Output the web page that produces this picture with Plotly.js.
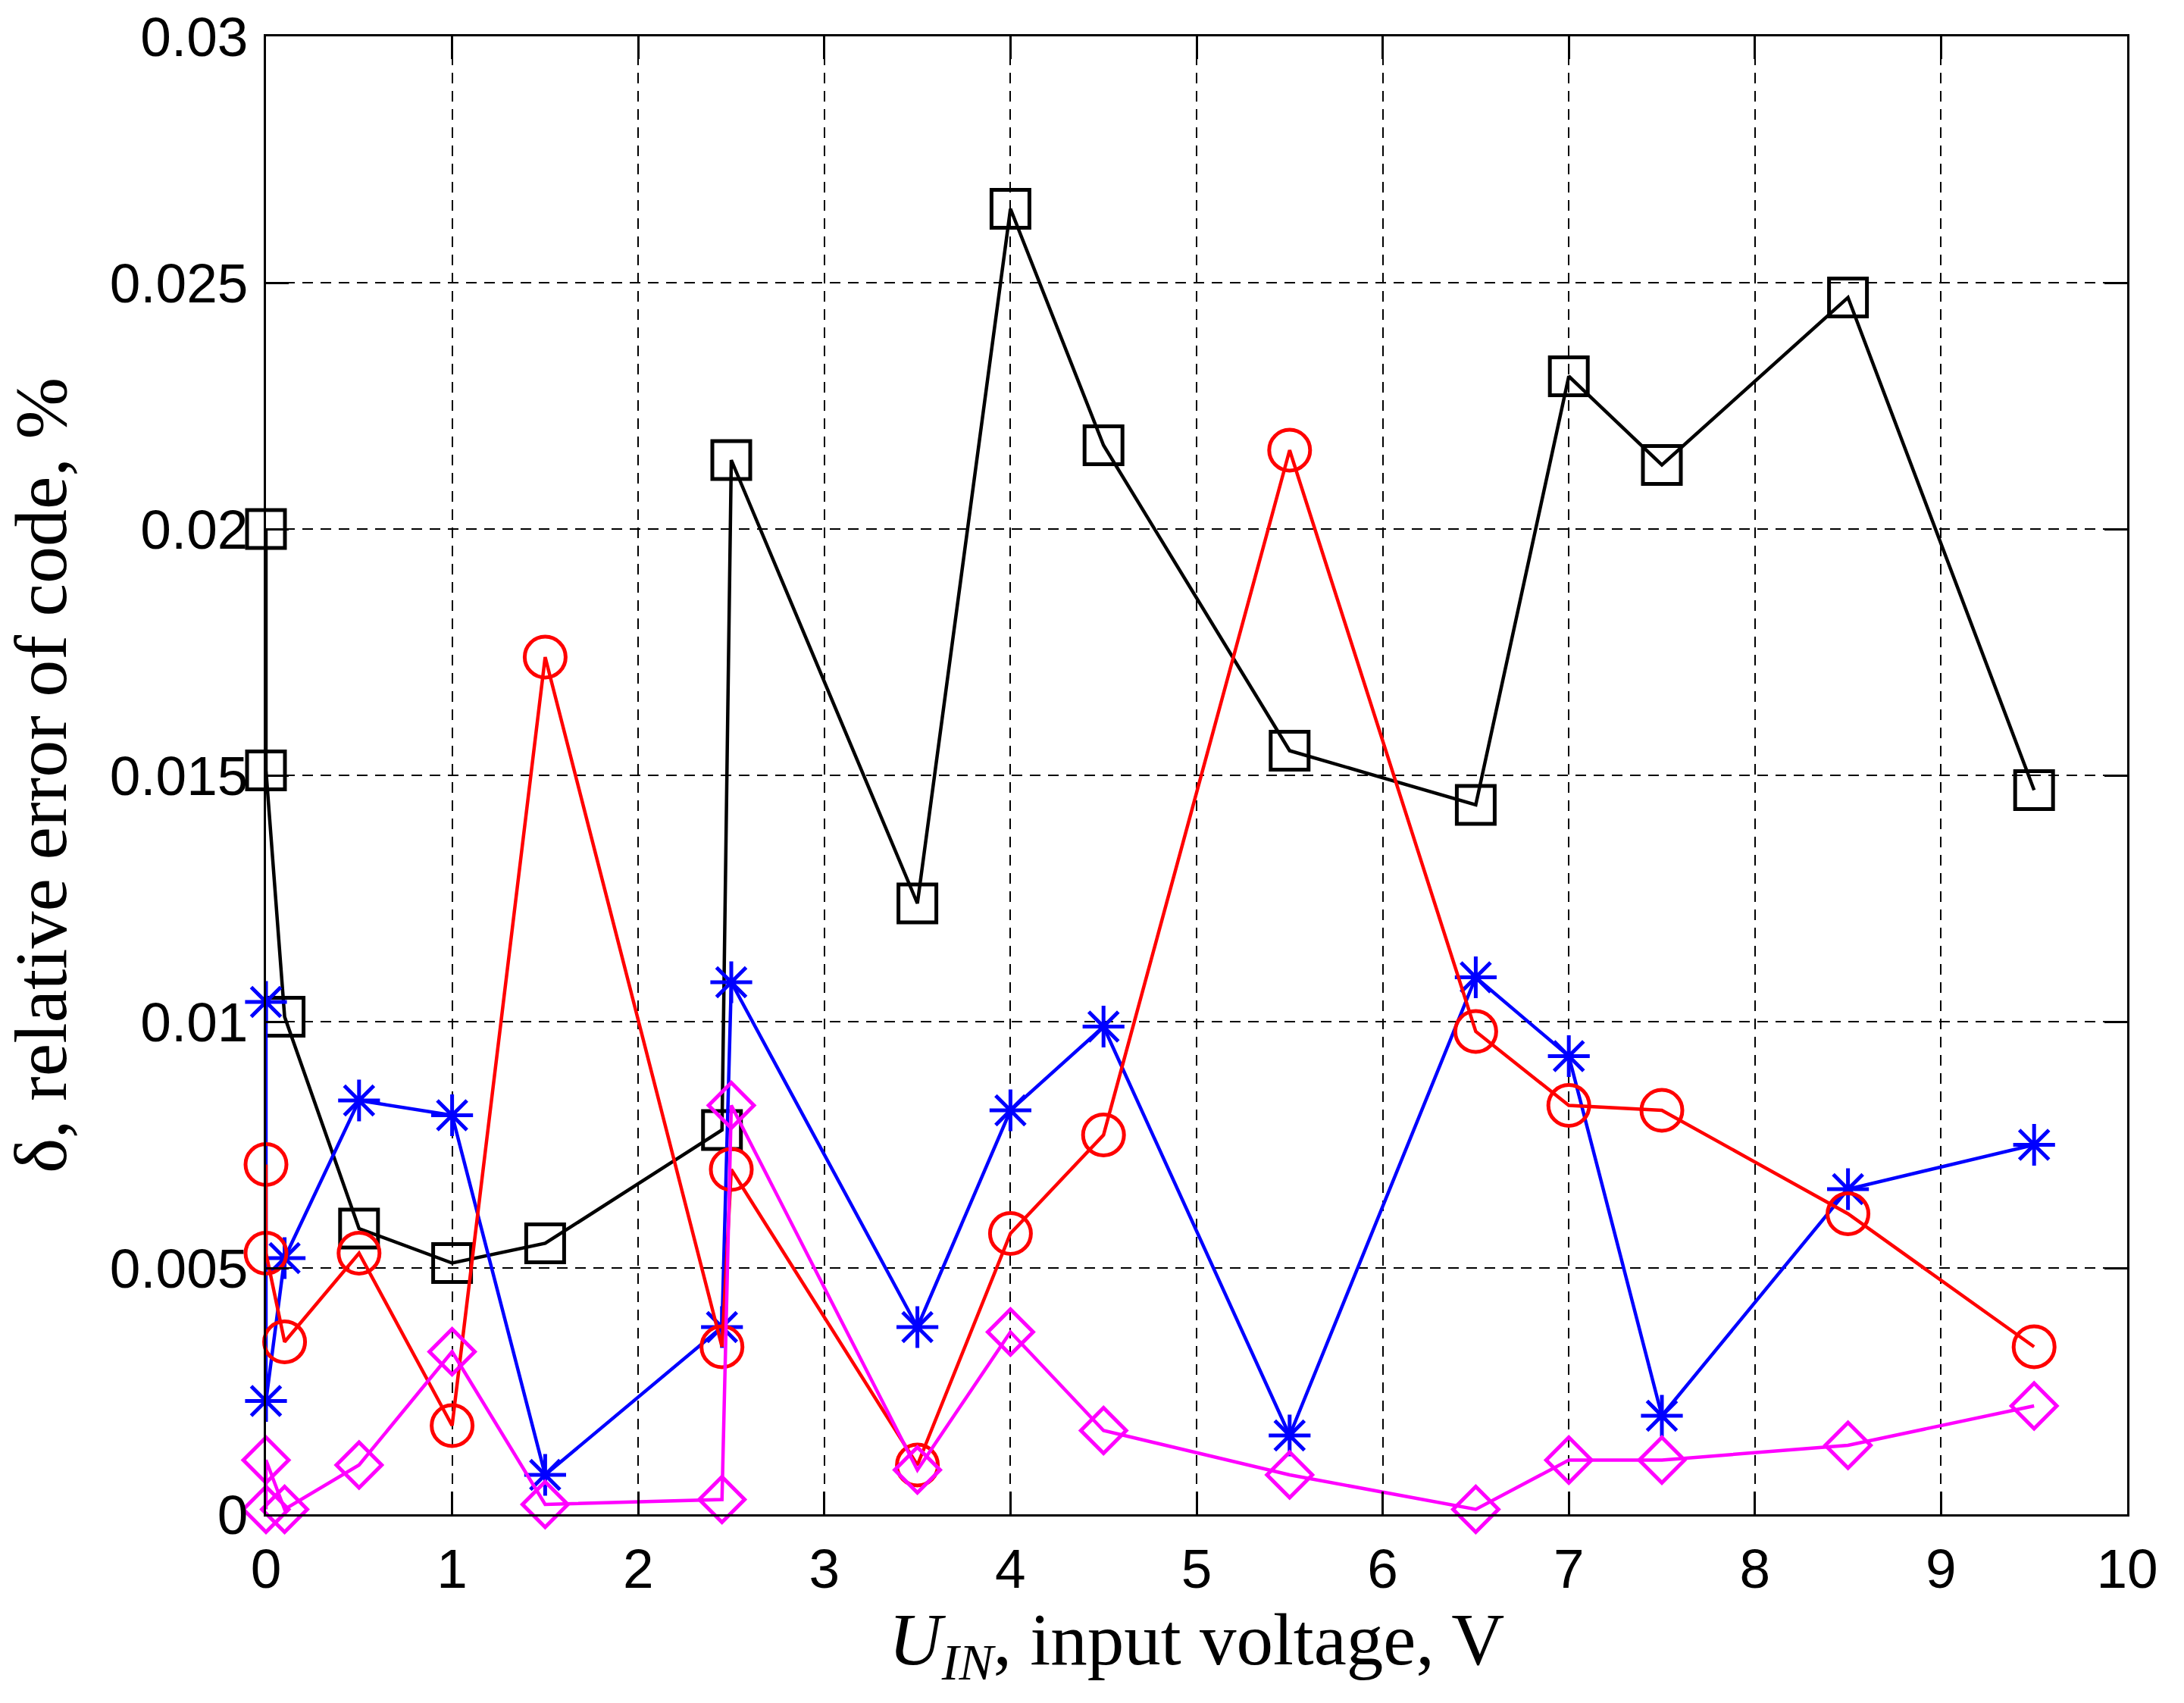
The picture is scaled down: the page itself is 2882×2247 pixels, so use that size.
<!DOCTYPE html>
<html>
<head>
<meta charset="utf-8">
<script src="https://cdn.plot.ly/plotly-3.0.1.min.js"></script>
<style>html,body{margin:0;padding:0;background:#fff;}#chart{width:2882px;height:2247px;}</style>
</head>
<body>
<div id="chart"></div>
<script>
// Input voltage, V (shared by all series)
const uIn = [0, 0, 0.1, 0.5, 1, 1.5, 2.45, 2.5, 3.5, 4, 4.5, 5.5, 6.5, 7, 7.5, 8.5, 9.5];
// Relative error of code, %
const seriesBlack   = [0.0200, 0.0151, 0.0101, 0.0058, 0.0051, 0.0055, 0.0078, 0.0214, 0.0124, 0.0265, 0.0217, 0.0155, 0.0144, 0.0231, 0.0213, 0.0247, 0.0147];
const seriesBlue    = [0.0104, 0.0023, 0.0052, 0.0084, 0.0081, 0.0008, 0.0038, 0.0108, 0.0038, 0.0082, 0.0099, 0.0016, 0.0109, 0.0093, 0.0020, 0.0066, 0.0075];
const seriesRed     = [0.0071, 0.0053, 0.0035, 0.0053, 0.0018, 0.0174, 0.0034, 0.0070, 0.0010, 0.0057, 0.0077, 0.0216, 0.0098, 0.0083, 0.0082, 0.0061, 0.0034];
const seriesMagenta = [0.0001, 0.0011, 0.0001, 0.0010, 0.0033, 0.0002, 0.0003, 0.0083, 0.0009, 0.0037, 0.0017, 0.0008, 0.0001, 0.0011, 0.0011, 0.0014, 0.0022];

const xTickVals = [0, 1, 2, 3, 4, 5, 6, 7, 8, 9, 10];
const xTickText = ['0', '1', '2', '3', '4', '5', '6', '7', '8', '9', '10'];
const yTickVals = [0, 0.005, 0.01, 0.015, 0.02, 0.025, 0.03];
const yTickText = ['0', '0.005', '0.01', '0.015', '0.02', '0.025', '0.03'];

function mk(y, color, symbol, size) {
  return {
    x: uIn, y: y, type: 'scatter', mode: 'lines+markers', cliponaxis: false,
    line: {color: color, width: 4.5},
    marker: {symbol: symbol, size: size, color: color, line: {color: color, width: 5}},
    showlegend: false, hoverinfo: 'skip'
  };
}

const data = [
  mk(seriesBlack, '#000000', 'square-open', 50),
  mk(seriesBlue, '#0000ff', 'asterisk-open', 46),
  mk(seriesRed, '#ff0000', 'circle-open', 54),
  mk(seriesMagenta, '#ff00ff', 'diamond-open', 46)
];

const axisCommon = {
  showline: true, linecolor: '#000', linewidth: 3, mirror: 'ticks',
  ticks: 'inside', ticklen: 30, tickwidth: 3, tickcolor: '#000',
  showgrid: true, gridcolor: '#000', gridwidth: 2, griddash: '14px,10px',
  zeroline: false,
  tickfont: {family: 'Liberation Sans, Arial, sans-serif', size: 73, color: '#000'}
};

const layout = {
  width: 2882, height: 2247,
  margin: {l: 351, r: 75, t: 48, b: 249},
  paper_bgcolor: '#fff', plot_bgcolor: '#fff',
  showlegend: false,
  xaxis: Object.assign({}, axisCommon, {
    range: [0, 10], tickmode: 'array', tickvals: xTickVals, ticktext: xTickText,
    ticklabelstandoff: 6,
    title: {text: '<i>U</i><sub><i>IN</i></sub>, input voltage, V', standoff: 0,
      font: {family: 'Liberation Serif, Times New Roman, serif', size: 97, color: '#000'}}
  }),
  yaxis: Object.assign({}, axisCommon, {
    range: [0, 0.03], tickmode: 'array', tickvals: yTickVals, ticktext: yTickText,
    ticklabelstandoff: 6,
    title: {text: 'δ, relative error of code, %', standoff: 53,
      font: {family: 'Liberation Serif, Times New Roman, serif', size: 98, color: '#000'}}
  })
};

Plotly.newPlot('chart', data, layout, {staticPlot: true, displayModeBar: false});
</script>
</body>
</html>
